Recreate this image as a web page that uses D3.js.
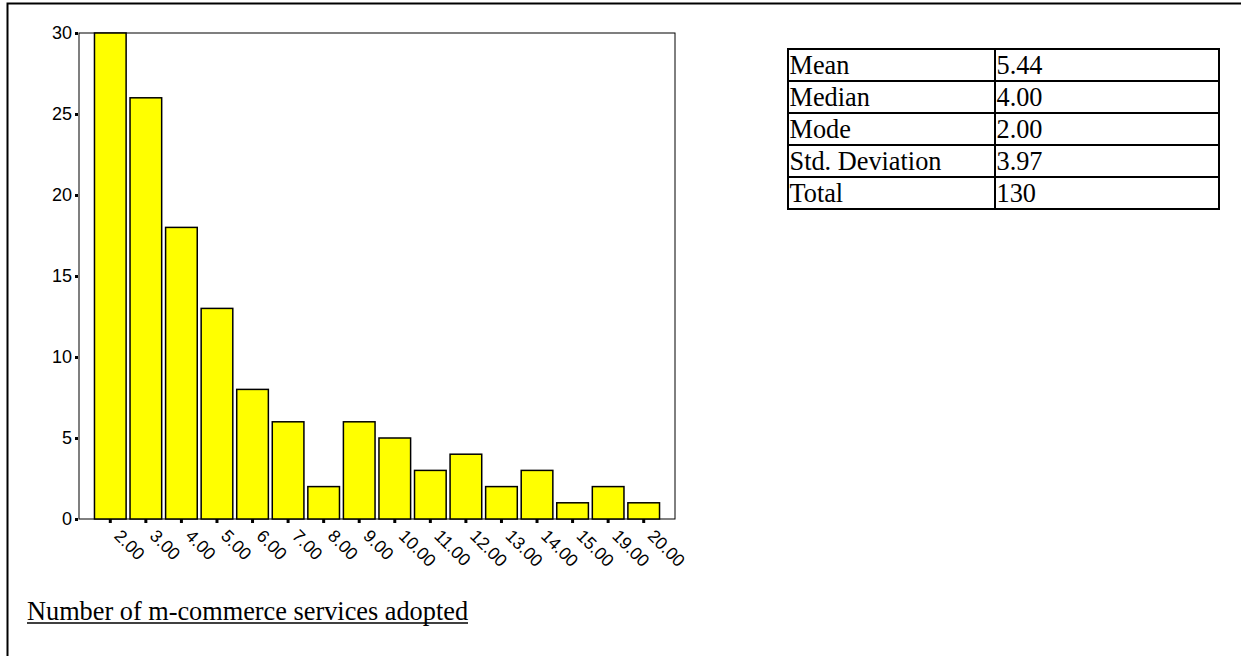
<!DOCTYPE html>
<html>
<head>
<meta charset="utf-8">
<script src="https://cdn.jsdelivr.net/npm/d3@7"></script>
<style>
  html, body { margin: 0; padding: 0; background: #fff; }
  svg { display: block; }
</style>
</head>
<body>
<script>
// ---- Data ----
const categories = ["2.00","3.00","4.00","5.00","6.00","7.00","8.00","9.00","10.00","11.00","12.00","13.00","14.00","15.00","19.00","20.00"];
const counts = [30, 26, 18, 13, 8, 6, 2, 6, 5, 3, 4, 2, 3, 1, 2, 1];
const yTicks = [0, 5, 10, 15, 20, 25, 30];
const statLabels = ["Mean", "Median", "Mode", "Std. Deviation", "Total"];
const statValues = ["5.44", "4.00", "2.00", "3.97", "130"];
const titleText = "Number of m-commerce services adopted";

// ---- Layout ----
const W = 1241, H = 656;
const plot = { left: 79, top: 33, right: 675, bottom: 519 };

const svg = d3.select("body").append("svg")
  .attr("width", W).attr("height", H);

svg.append("rect").attr("width", W).attr("height", H).attr("fill", "#fff");

// outer frame (left + top edges)
svg.append("path")
  .attr("d", `M7.5,${H} L7.5,3.5 L${W},3.5`)
  .attr("fill", "none").attr("stroke", "#000").attr("stroke-width", 2);

const x = d3.scaleBand()
  .domain(categories)
  .range([plot.left, plot.right])
  .paddingInner(0.11)
  .paddingOuter(0.435);

const y = d3.scaleLinear()
  .domain([0, 30])
  .range([plot.bottom, plot.top]);

// plot frame
svg.append("rect")
  .attr("x", plot.left).attr("y", plot.top)
  .attr("width", plot.right - plot.left).attr("height", plot.bottom - plot.top)
  .attr("fill", "none").attr("stroke", "#000").attr("stroke-width", 1);

// bars
svg.append("g").selectAll("rect")
  .data(counts)
  .join("rect")
  .attr("x", (d, i) => x(categories[i]))
  .attr("y", d => y(d))
  .attr("width", x.bandwidth())
  .attr("height", d => y(0) - y(d))
  .attr("fill", "#ffff00")
  .attr("stroke", "#000")
  .attr("stroke-width", 1.5);

// y axis
const yAxis = svg.append("g")
  .attr("transform", `translate(${plot.left - 1},0)`)
  .call(d3.axisLeft(y).tickValues(yTicks).tickSize(3).tickPadding(3).tickFormat(d3.format("d")));
yAxis.select(".domain").remove();
yAxis.selectAll(".tick line").attr("stroke", "#000").attr("stroke-width", 3);
yAxis.selectAll(".tick text")
  .attr("font-family", "'Liberation Sans', Arial, sans-serif")
  .attr("font-size", 18)
  .attr("fill", "#000")
  .attr("dy", "0.28em");

// x axis
const xAxis = svg.append("g")
  .attr("transform", `translate(0,${plot.bottom})`)
  .call(d3.axisBottom(x).tickSize(4).tickPadding(0));
xAxis.select(".domain").remove();
xAxis.selectAll(".tick line").attr("stroke", "#000").attr("stroke-width", 3);
xAxis.selectAll(".tick text")
  .attr("font-family", "'Liberation Sans', Arial, sans-serif")
  .attr("font-size", 17.5)
  .attr("fill", "#000")
  .attr("text-anchor", "start")
  .attr("x", 0).attr("y", 0).attr("dy", 0)
  .attr("transform", "translate(3,18) rotate(45)");

// title (underlined)
const title = svg.append("text")
  .attr("x", 27).attr("y", 620)
  .attr("font-family", "'Liberation Serif', 'Times New Roman', serif")
  .attr("font-size", 26.3)
  .attr("fill", "#000")
  .text(titleText);
const tlen = title.node().getComputedTextLength();
svg.append("line")
  .attr("x1", 27).attr("x2", 27 + tlen)
  .attr("y1", 623).attr("y2", 623)
  .attr("stroke", "#000").attr("stroke-width", 1.5);

// stats table
const tbl = { left: 788, mid: 995, right: 1219, top: 49, rowH: 32 };
const rowY = d3.scaleLinear().domain([0, statLabels.length]).range([tbl.top, tbl.top + tbl.rowH * statLabels.length]);
const tg = svg.append("g");
tg.selectAll("line.row")
  .data(d3.range(statLabels.length + 1))
  .join("line")
  .attr("x1", tbl.left).attr("x2", tbl.right)
  .attr("y1", d => rowY(d)).attr("y2", d => rowY(d))
  .attr("stroke", "#000").attr("stroke-width", 2);
[tbl.left, tbl.mid, tbl.right].forEach(xx => {
  tg.append("line")
    .attr("x1", xx).attr("x2", xx)
    .attr("y1", rowY(0) - 1).attr("y2", rowY(statLabels.length) + 1)
    .attr("stroke", "#000").attr("stroke-width", 2);
});
tg.selectAll("text.lab")
  .data(statLabels)
  .join("text")
  .attr("x", tbl.left + 1.5)
  .attr("y", (d, i) => rowY(i + 1) - 7)
  .attr("font-family", "'Liberation Serif', 'Times New Roman', serif")
  .attr("font-size", 26.3)
  .attr("fill", "#000")
  .text(d => d);
tg.selectAll("text.val")
  .data(statValues)
  .join("text")
  .attr("x", tbl.mid + 1.5)
  .attr("y", (d, i) => rowY(i + 1) - 7)
  .attr("font-family", "'Liberation Serif', 'Times New Roman', serif")
  .attr("font-size", 26.3)
  .attr("fill", "#000")
  .text(d => d);
</script>
</body>
</html>
